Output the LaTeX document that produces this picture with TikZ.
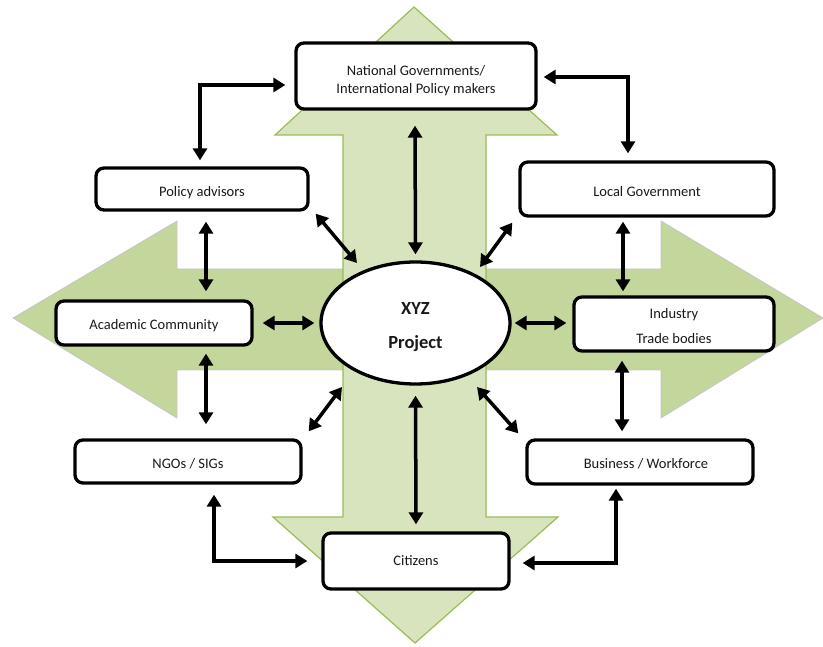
\documentclass[tikz,border=0pt]{standalone}
\usepackage{fontspec}
\setmainfont{Carlito}
\usetikzlibrary{arrows.meta,calc,shapes.geometric}
\definecolor{hgreen}{HTML}{C3D69B}
\definecolor{vgreen}{HTML}{D7E4BD}
\definecolor{vedge}{HTML}{9BBB59}
\newcommand\twolines[3]{\raisebox{#1}[\height][\depth]{\begin{tabular}{@{}c@{}}#2\\#3\end{tabular}}}
\begin{document}
\begin{tikzpicture}[x=1pt,y=-1pt,
  box/.style={draw=black,line width=3.3pt,rounded corners=8pt,fill=white,align=center,inner sep=0pt,
    font=\fontsize{14.5}{17.5}\selectfont,text=black!90},
  strutH/.style={execute at begin node={\rule{0pt}{#1}}},
  dbl/.style={line width=3.5pt,{Triangle[length=12pt,width=14pt]}-{Triangle[length=12pt,width=14pt]}},
  harrow/.style={fill=hgreen,draw=black!22,line width=0.8pt},
  varrow/.style={fill=vgreen,draw=vedge,line width=1.2pt},
]
\useasboundingbox (0,0) rectangle (823,647);

% background four-way arrows
\path[harrow] (13,318) -- (177,221) -- (177,269) -- (661,269) -- (661,221) -- (823,318)
  -- (661,418) -- (661,370) -- (177,370) -- (177,418) -- cycle;
\path[varrow] (414,7) -- (557,135) -- (486,135) -- (486,517) -- (558,517) -- (415,643)
  -- (273,517) -- (343,517) -- (343,135) -- (275,135) -- cycle;

% nodes
\node[box,minimum width=240pt,minimum height=66pt] (nat) at (416,76)
  {\twolines{-5pt}{National Governments/}{International Policy makers}};
\node[box,strutH=16.5pt,minimum width=212pt,minimum height=42pt] (pa) at (202,189) {Policy advisors};
\node[box,strutH=14.5pt,minimum width=254pt,minimum height=54pt] (lg) at (647,189) {Local Government};
\node[box,strutH=14.5pt,minimum width=196pt,minimum height=44pt] (ac) at (154,323) {Academic Community};
\node[box,minimum width=200pt,minimum height=54pt,font=\fontsize{14.5}{25}\selectfont] (ind) at (674,324)
  {\twolines{-2pt}{Industry}{Trade bodies}};
\node[box,strutH=14.5pt,minimum width=226pt,minimum height=43pt] (ngo) at (188,461.5) {NGOs / SIGs};
\node[box,strutH=14.5pt,minimum width=226pt,minimum height=44pt] (bus) at (640,462) {\hspace*{12pt}Business / Workforce};
\node[box,minimum width=186pt,minimum height=56pt] (cit) at (416,561) {Citizens};
\node[draw=black,ellipse,line width=3.3pt,fill=white,minimum width=189pt,minimum height=122pt,inner sep=0pt,
  font=\fontsize{18.5}{34}\selectfont\bfseries,text=black!90,align=center] (xyz) at (415.5,323) {\rule{0pt}{20pt}XYZ\\Project};

% connectors
\draw[dbl] ($(nat.west)+(-9,9)$) -| ($(pa.north)+(-2,-6)$);
\draw[dbl] ($(nat.east)+(6,1)$) -| ($(lg.north)+(-19,-7)$);
\draw[dbl] ($(nat.south)+(-1,15)$) -- ($(xyz.north)+(0,-6)$);
\draw[dbl] ($(pa.south east)+(6,2)$) -- ($(xyz.center)+(-58.5,-60)$);
\draw[dbl] ($(lg.south west)+(-6,5)$) -- ($(xyz.center)+(64.5,-56)$);
\draw[dbl] ($(pa.south)+(4,10)$) -- ($(ac.north)+(52,-8)$);
\draw[dbl] ($(ac.east)+(9,0)$) -- ($(xyz.west)+(-5,0)$);
\draw[dbl] ($(lg.south)+(-24,4)$) -- ($(ind.north)+(-51,-4)$);
\draw[dbl] ($(xyz.east)+(3,0)$) -- ($(ind.west)+(-6,-1)$);
\draw[dbl] ($(ac.south)+(52,7)$) -- ($(ngo.north)+(18,-14)$);
\draw[dbl] ($(xyz.center)+(-73.5,64)$) -- ($(ngo.north east)+(6,-7)$);
\draw[dbl] ($(ngo.south)+(26,10)$) |- ($(cit.west)+(-14,0)$);
\draw[dbl] ($(ind.south)+(-52,8)$) -- ($(bus.north)+(-18,-7)$);
\draw[dbl] ($(xyz.center)+(61.5,64)$) -- ($(bus.north west)+(-7,-5)$);
\draw[dbl] ($(bus.south)+(-24,3)$) |- ($(cit.east)+(12,2)$);
\draw[dbl] ($(xyz.south)+(0,10)$) -- ($(cit.north)+(0,-7)$);
\end{tikzpicture}
\end{document}
